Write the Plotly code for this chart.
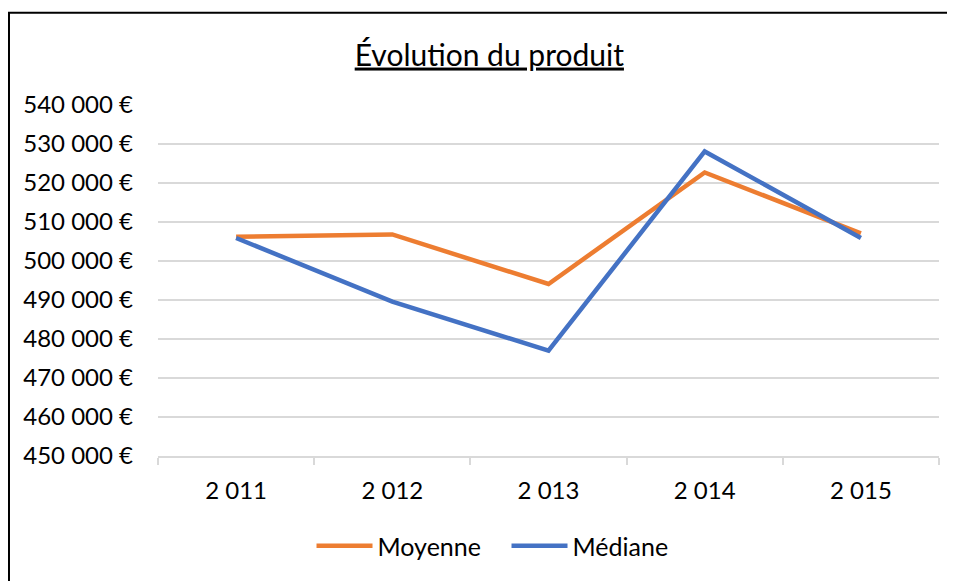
import plotly.graph_objects as go

# data
years = [2011, 2012, 2013, 2014, 2015]
moyenne = [506200, 506800, 494100, 522700, 507100]
mediane = [505900, 489600, 477000, 528100, 505900]
y_ticks = [450000, 460000, 470000, 480000, 490000, 500000, 510000, 520000, 530000, 540000]

year_labels = [f"{y:,}".replace(",", " ") for y in years]
y_labels = [f"{v:,} €".replace(",", " ") for v in y_ticks]
font_name = "Lato"

fig = go.Figure()
fig.add_trace(go.Scatter(x=year_labels, y=moyenne, name="Moyenne", mode="lines",
                         line=dict(color="#ED7D31", width=4.5)))
fig.add_trace(go.Scatter(x=year_labels, y=mediane, name="Médiane", mode="lines",
                         line=dict(color="#4472C4", width=4.5)))

# page body adds 8px, so the figure is laid out 8px up/left of the screen positions
fig.update_layout(
    width=955, height=581,
    margin=dict(l=150, r=24, t=97, b=133, autoexpand=False),
    paper_bgcolor="white", plot_bgcolor="white",
    font=dict(family=font_name, size=24, color="black"),
    title=dict(text="<u>Évolution du produit</u>", font=dict(size=30),
               x=0.504, xref="container", xanchor="center",
               y=0.919, yref="container", yanchor="middle"),
    legend=dict(orientation="h", xref="container", yref="container",
                x=0.522, xanchor="center", y=0.074, yanchor="middle",
                itemwidth=56, entrywidth=124, font=dict(size=25)),
    shapes=[dict(type="rect", xref="paper", yref="paper",
                 x0=-0.1908, x1=1.2, y0=-0.6, y1=1.263,
                 line=dict(color="black", width=2))],
)
fig.update_yaxes(range=[450000, 540000], tickvals=y_ticks, ticktext=y_labels,
                 showgrid=True, gridcolor="#d9d9d9", gridwidth=1.5, automargin=False,
                 zeroline=False, showline=False, ticks="", ticklabelstandoff=24)
fig.update_xaxes(type="category", range=[-0.5, 4.5], showgrid=False, showline=True,
                 linecolor="#d9d9d9", linewidth=1.5, ticks="outside", tickson="boundaries",
                 ticklen=7, tickcolor="#d9d9d9", tickwidth=1.5, automargin=False,
                 ticklabelstandoff=12)

fig.write_html("out.html")
